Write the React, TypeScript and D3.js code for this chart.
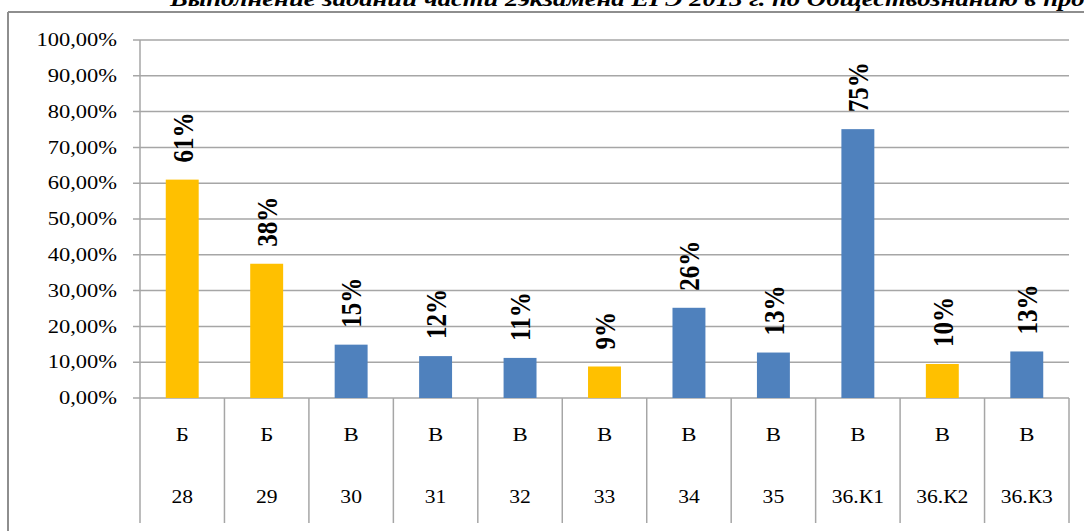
import React from 'react';
import * as d3 from 'd3';

const title = 'Выполнение заданий части 2экзамена ЕГЭ 2013 г. по Обществознанию в процентах';
const tasks = ['28', '29', '30', '31', '32', '33', '34', '35', '36.К1', '36.К2', '36.К3'];
const levels = ['Б', 'Б', 'В', 'В', 'В', 'В', 'В', 'В', 'В', 'В', 'В'];
const values = [0.61, 0.375, 0.149, 0.117, 0.112, 0.088, 0.252, 0.127, 0.751, 0.095, 0.13];
const labels = ['61%', '38%', '15%', '12%', '11%', '9%', '26%', '13%', '75%', '10%', '13%'];
const gold = [true, true, false, false, false, true, false, false, false, true, false];
const yTicks = [0, 0.1, 0.2, 0.3, 0.4, 0.5, 0.6, 0.7, 0.8, 0.9, 1];

const W = 1084;
const H = 531;
const serif = { fontFamily: '"Liberation Serif", "DejaVu Serif", "Times New Roman", Times, serif' };
const grid = '#a6a6a6';

export default function App() {
  const x = d3.scaleBand<string>().domain(tasks).range([140, 1069]).paddingInner(0);
  const y = d3.scaleLinear().domain([0, 1]).range([398, 40]);
  const bw = x.bandwidth() * 0.39;
  const fmt = (v: number) => d3.format('.2f')(v * 100).replace('.', ',') + '%';

  return (
    <svg width={W} height={H} style={{ position: 'absolute', left: 0, top: 0, background: '#fff' }}>
      {/* frame */}
      <line x1={8} x2={W} y1={12} y2={12} stroke="#8e8e8e" strokeWidth={2} />
      <line x1={8} x2={8} y1={12} y2={H} stroke="#8e8e8e" strokeWidth={2} />

      {/* title is clipped at the top edge, as in the source image */}
      <g transform="translate(170,6) scale(1.27,1)">
        <text style={serif} fontSize={21} fontWeight="bold" fontStyle="italic" fill="#000">
          {title}
        </text>
      </g>

      {/* gridlines + y axis */}
      {yTicks.map((t) => (
        <g key={t}>
          <line x1={133} x2={1069} y1={y(t)} y2={y(t)} stroke={grid} strokeWidth={1.5} />
          <g transform={`translate(117,${y(t)}) scale(1.25,1)`}>
            <text textAnchor="end" dominantBaseline="central" style={serif} fontSize={18} fill="#000">
              {fmt(t)}
            </text>
          </g>
        </g>
      ))}
      <line x1={140} x2={140} y1={y(1)} y2={398} stroke={grid} strokeWidth={1.5} />

      {/* category separators */}
      {[...tasks.map((t) => x(t)!), 1069].map((bx, i) => (
        <line key={i} x1={bx} x2={bx} y1={398} y2={523} stroke={grid} strokeWidth={1.5} />
      ))}

      {/* bars */}
      {tasks.map((t, i) => {
        const cx = x(t)! + x.bandwidth() / 2;
        return (
          <g key={t}>
            <rect
              x={cx - bw / 2}
              y={y(values[i])}
              width={bw}
              height={398 - y(values[i])}
              fill={gold[i] ? '#ffc000' : '#4f81bd'}
            />
            <g transform={`translate(${cx},${y(values[i]) - 17}) rotate(-90) scale(1,1.2)`}>
              <text dominantBaseline="central" style={serif} fontSize={25} fontWeight="bold" fill="#000">
                {labels[i]}
              </text>
            </g>
            <g transform={`translate(${cx},435) scale(1.2,1)`}>
              <text textAnchor="middle" dominantBaseline="central" style={serif} fontSize={19} fill="#000">
                {levels[i]}
              </text>
            </g>
            <g transform={`translate(${cx},497) scale(1.2,1)`}>
              <text textAnchor="middle" dominantBaseline="central" style={serif} fontSize={18} fill="#000">
                {t}
              </text>
            </g>
          </g>
        );
      })}
    </svg>
  );
}
